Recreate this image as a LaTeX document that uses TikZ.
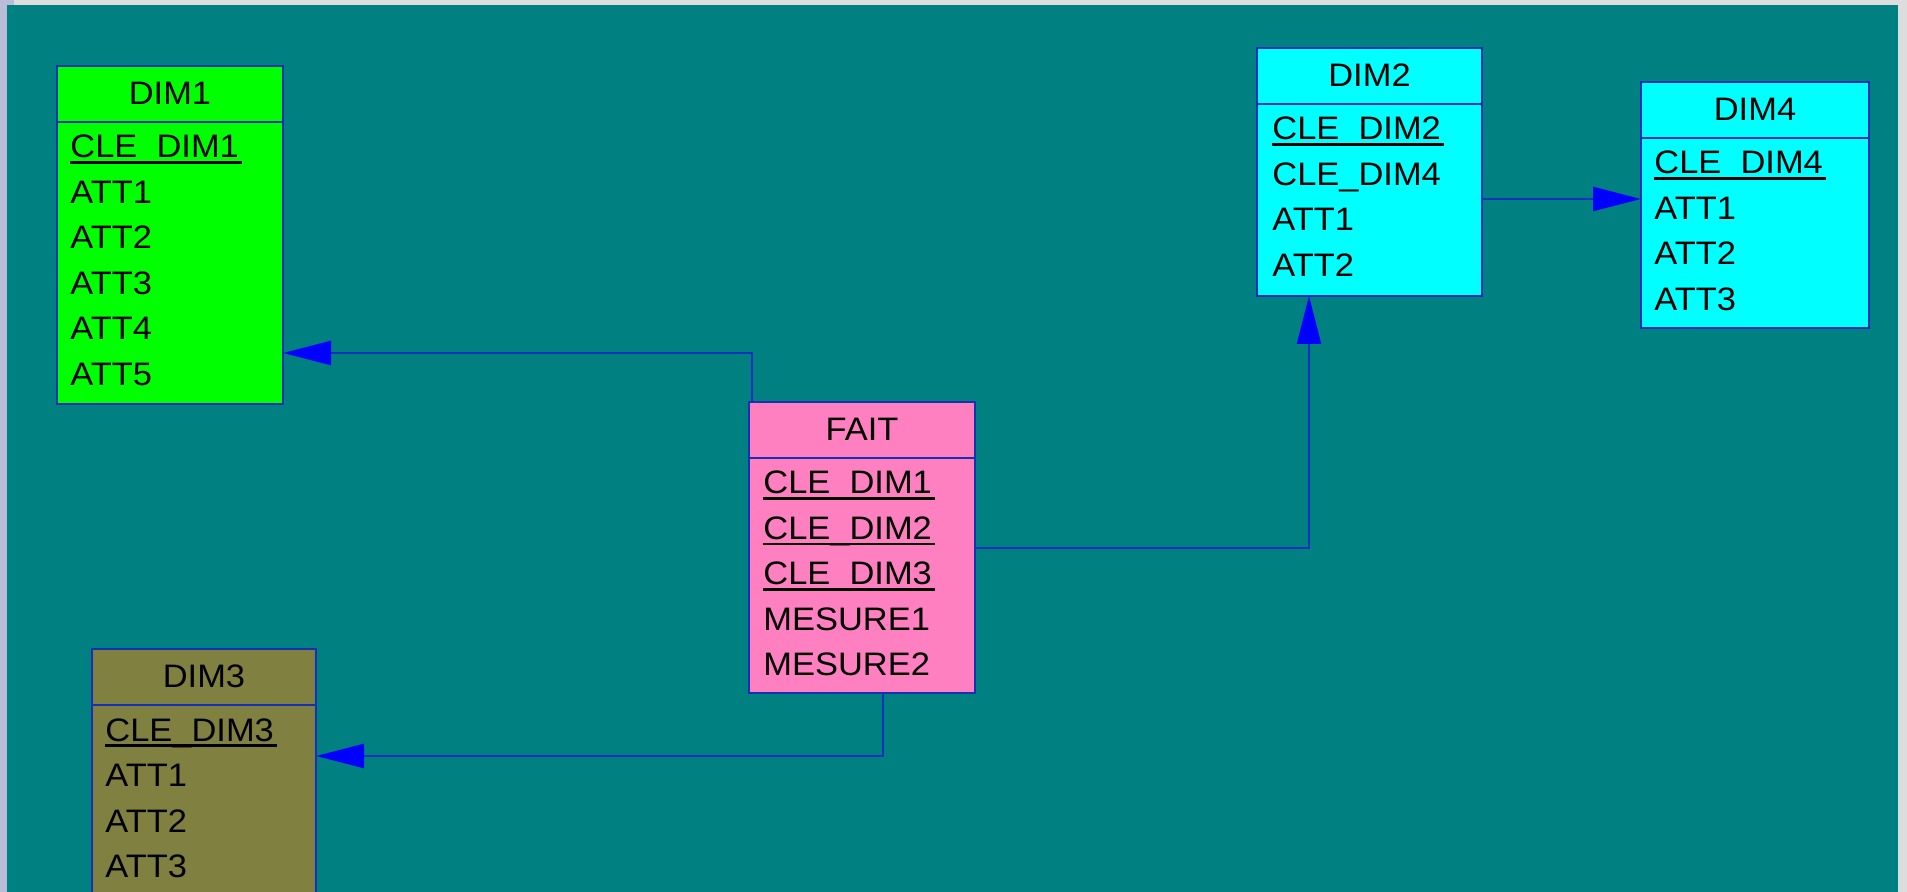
\documentclass[tikz,border=0pt]{standalone}
\usepackage{fontspec}
\setmainfont{Liberation Sans}[FakeStretch=1.06]
\usetikzlibrary{arrows.meta}
\definecolor{bgteal}{RGB}{0,128,128}
\definecolor{stripgrey}{RGB}{221,221,221}
\definecolor{striplav}{RGB}{186,189,216}
\definecolor{cgreen}{RGB}{0,255,0}
\definecolor{ccyan}{RGB}{0,255,255}
\definecolor{cpink}{RGB}{255,128,192}
\definecolor{colive}{RGB}{128,128,64}
\definecolor{edgeblue}{RGB}{24,48,180}
\definecolor{lineblue}{RGB}{20,50,190}
\definecolor{tipblue}{RGB}{0,0,255}
\tikzset{
  ent/.style={draw=edgeblue, line width=1pt, anchor=north west, inner sep=0pt, outer sep=0pt},
  sepline/.style={draw=edgeblue, line width=1pt},
  hdr/.style={font=\fontsize{16.25}{19}\selectfont, inner sep=0pt, anchor=base, text=black},
  attr/.style={font=\fontsize{16.25}{19}\selectfont, inner sep=0pt, anchor=base west, text=black},
  uline/.style={draw=black, line width=1.4pt},
  conn/.style={draw=lineblue, line width=1.3pt},
  tip/.style={-{Triangle[length=24pt,width=12pt,color=tipblue]}}
}
\begin{document}
\begin{tikzpicture}[x=0.5pt,y=-0.5pt]
\useasboundingbox (0,0) rectangle (1907,892);
\clip (0,0) rectangle (1907,892);
\fill[stripgrey] (0,0) rectangle (1907,892);
\fill[striplav] (0,0) rectangle (7,892);
\fill[striplav] (0,0) rectangle (14,5);
\fill[bgteal] (7,5) rectangle (1898,892);

% ---------- DIM1 ----------
\node[ent, fill=cgreen, minimum width=113pt, minimum height=169pt] (dim1) at (57,66) {};
\node[hdr] (dim1-t) at ([yshift=-19.25pt]dim1.north) {DIM1};
\draw[sepline] ([yshift=-28pt]dim1.north west) -- ([yshift=-28pt]dim1.north east);
\foreach \t [count=\i from 0] in {CLE\_DIM1,ATT1,ATT2,ATT3,ATT4,ATT5}
  \node[attr] (dim1-\i) at ([xshift=6.5pt,yshift={-46pt-22.75pt*\i}]dim1.north west) {\t};
\draw[uline] ([yshift=-2.3pt]dim1-0.base west) -- ([yshift=-2.3pt,xshift=1.5pt]dim1-0.base east);

% ---------- FAIT ----------
\node[ent, fill=cpink, minimum width=113pt, minimum height=145.5pt] (fait) at (749,402) {};
\node[hdr] (fait-t) at ([yshift=-19.25pt]fait.north) {FAIT};
\draw[sepline] ([yshift=-28pt]fait.north west) -- ([yshift=-28pt]fait.north east);
\foreach \t [count=\i from 0] in {CLE\_DIM1,CLE\_DIM2,CLE\_DIM3,MESURE1,MESURE2}
  \node[attr] (fait-\i) at ([xshift=7pt,yshift={-46pt-22.75pt*\i}]fait.north west) {\t};
\foreach \i in {0,1,2}
  \draw[uline] ([yshift=-2.3pt]fait-\i.base west) -- ([yshift=-2.3pt,xshift=1.5pt]fait-\i.base east);

% ---------- DIM2 ----------
\node[ent, fill=ccyan, minimum width=112.5pt, minimum height=124pt] (dim2) at (1257,48) {};
\node[hdr] (dim2-t) at ([yshift=-19.25pt]dim2.north) {DIM2};
\draw[sepline] ([yshift=-28pt]dim2.north west) -- ([yshift=-28pt]dim2.north east);
\foreach \t [count=\i from 0] in {CLE\_DIM2,CLE\_DIM4,ATT1,ATT2}
  \node[attr] (dim2-\i) at ([xshift=7.5pt,yshift={-46pt-22.75pt*\i}]dim2.north west) {\t};
\draw[uline] ([yshift=-2.3pt]dim2-0.base west) -- ([yshift=-2.3pt,xshift=1.5pt]dim2-0.base east);

% ---------- DIM4 ----------
\node[ent, fill=ccyan, minimum width=114pt, minimum height=123pt] (dim4) at (1641,82) {};
\node[hdr] (dim4-t) at ([yshift=-19.25pt]dim4.north) {DIM4};
\draw[sepline] ([yshift=-28pt]dim4.north west) -- ([yshift=-28pt]dim4.north east);
\foreach \t [count=\i from 0] in {CLE\_DIM4,ATT1,ATT2,ATT3}
  \node[attr] (dim4-\i) at ([xshift=6.5pt,yshift={-46pt-22.75pt*\i}]dim4.north west) {\t};
\draw[uline] ([yshift=-2.3pt]dim4-0.base west) -- ([yshift=-2.3pt,xshift=1.5pt]dim4-0.base east);

% ---------- DIM3 ----------
\node[ent, fill=colive, minimum width=112pt, minimum height=135pt] (dim3) at (92,649) {};
\node[hdr] (dim3-t) at ([yshift=-19.25pt]dim3.north) {DIM3};
\draw[sepline] ([yshift=-28pt]dim3.north west) -- ([yshift=-28pt]dim3.north east);
\foreach \t [count=\i from 0] in {CLE\_DIM3,ATT1,ATT2,ATT3}
  \node[attr] (dim3-\i) at ([xshift=6.5pt,yshift={-46pt-22.75pt*\i}]dim3.north west) {\t};
\draw[uline] ([yshift=-2.3pt]dim3-0.base west) -- ([yshift=-2.3pt,xshift=1.5pt]dim3-0.base east);

% ---------- connectors ----------
\coordinate (b1) at (752,353);
\coordinate (b2) at (883,756);
\coordinate (b3) at (1309,548);
\coordinate (b4) at (1500,199);
\draw[conn,tip] (fait.north -| b1) |- (dim1.east |- b1);
\draw[conn,tip] (fait.south -| b2) |- (dim3.east |- b2);
\draw[conn,tip] (fait.east |- b3) -| (dim2.south -| b3);
\draw[conn,tip] (dim2.east |- b4) -- (dim4.west |- b4);
\end{tikzpicture}
\end{document}
